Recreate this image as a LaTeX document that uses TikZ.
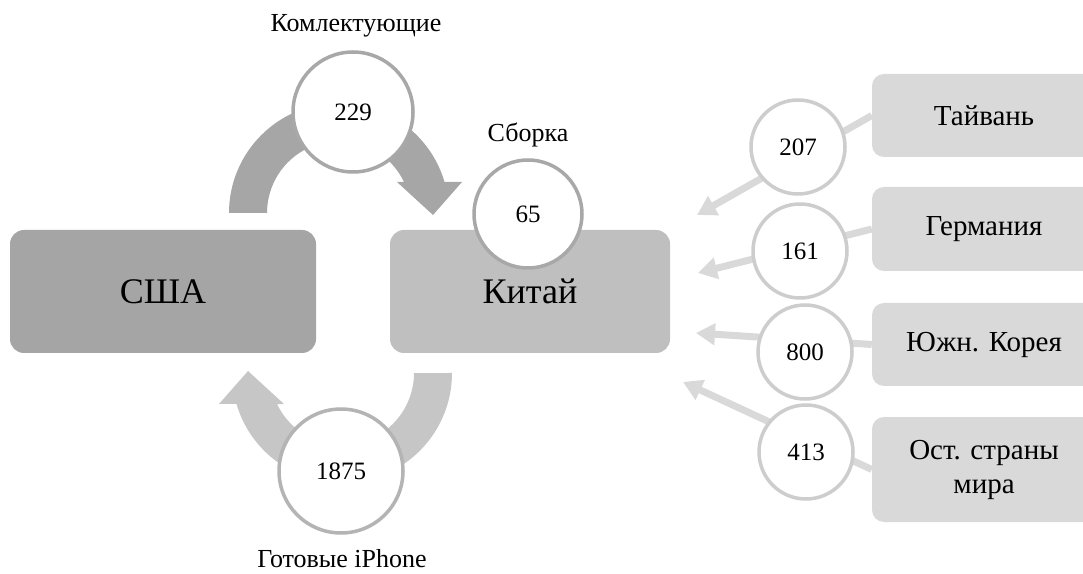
\documentclass[tikz,border=0pt]{standalone}
\usepackage{fontspec}
\setmainfont{Liberation Serif}
\newfontfamily\tms{Liberation Serif}
\usetikzlibrary{arrows.meta}
\definecolor{usa}{HTML}{A5A5A5}
\definecolor{china}{HTML}{BFBFBF}
\definecolor{country}{HTML}{D9D9D9}
\definecolor{flowline}{HTML}{D9D9D9}
\definecolor{ringdark}{HTML}{A8A8A8}
\definecolor{ringmid}{HTML}{B4B4B4}
\definecolor{ringlight}{HTML}{CDCDCD}
\definecolor{arrowtop}{HTML}{A6A6A6}
\definecolor{arrowbot}{HTML}{C6C6C6}
\tikzset{
  bigbox/.style={rounded corners=14pt, minimum height=123pt, inner sep=0pt,
    font=\tms\fontsize{36}{40}\selectfont},
  cbox/.style={fill=country, rounded corners=12pt, minimum width=224pt, inner sep=0pt,
    align=center, font=\tms\fontsize{29}{34}\selectfont},
  ring/.style={circle, fill=white, draw=ringdark, line width=3.5pt, inner sep=0pt,
    font=\tms\fontsize{25}{30}\selectfont},
  smallring/.style={ring, draw=ringlight, minimum size=94pt},
  lbl/.style={anchor=base, inner sep=0pt, font=\tms\fontsize{26}{30}\selectfont},
  flow/.style={draw=flowline, line width=7pt, -{Triangle[length=19pt,width=21pt]}},
  cyclearrow/.pic={
    \fill (229,360) arc[start angle=180, end angle=16.37, radius=110]
      -- (462,391) -- (433,358) -- (397,391) -- (404,391)
      arc[start angle=25.5, end angle=180, radius=72] -- cycle;
  }
}
\begin{document}
\begin{tikzpicture}[x=1pt,y=1pt]
\useasboundingbox (0,0) rectangle (1083,573);
\clip (0,0) rectangle (1083,573);
% main boxes
\node[bigbox, fill=usa, minimum width=306pt] (usa) at (163,281.5) {США};
\node[bigbox, fill=china, minimum width=280pt] (china) at (530,281.5) {Китай};
% cycle arrows
\pic[fill=arrowtop] {cyclearrow};
\pic[fill=arrowbot, rotate around={180:(340.5,280)}] {cyclearrow};
% country boxes
\node[cbox, minimum height=83pt] (tw) at (984,457.5) {Тайвань};
\node[cbox, minimum height=84pt] (de) at (984,344) {Германия};
\node[cbox, minimum height=83pt] (kr) at (984,228.5) {Южн. Корея};
\node[cbox, minimum height=105pt] (rw) at (984,103.5) {Ост. страны\\мира};
% arrow ends
\coordinate (twend) at (697,358);
\coordinate (deend) at (698,300);
\coordinate (krend) at (696,240);
\coordinate (rwend) at (683,191);
\draw[flow] (tw.west) -- (twend);
\draw[flow] (de.west) -- (deend);
\draw[flow] (kr.west) -- (krend);
\draw[flow] (rw.west) -- (rwend);
% circles
\node[ring, minimum size=120pt] (c229) at (353,461) {229};
\node[ring, minimum size=108pt] (c65) at (528,359) {65};
\node[ring, draw=ringmid, minimum size=124pt] (c1875) at (341,102) {1875};
\node[smallring] (c207) at (798,426) {207};
\node[smallring] (c161) at (800,322) {161};
\node[smallring] (c800) at (805,221) {800};
\node[smallring] (c413) at (806,121) {413};
% labels
\node[lbl] (lkompl) at (356,541) {Комлектующие};
\node[lbl] (lsborka) at (528,431) {Сборка};
\node[lbl] (lgot) at (342,6) {Готовые iPhone};
\end{tikzpicture}
\end{document}
